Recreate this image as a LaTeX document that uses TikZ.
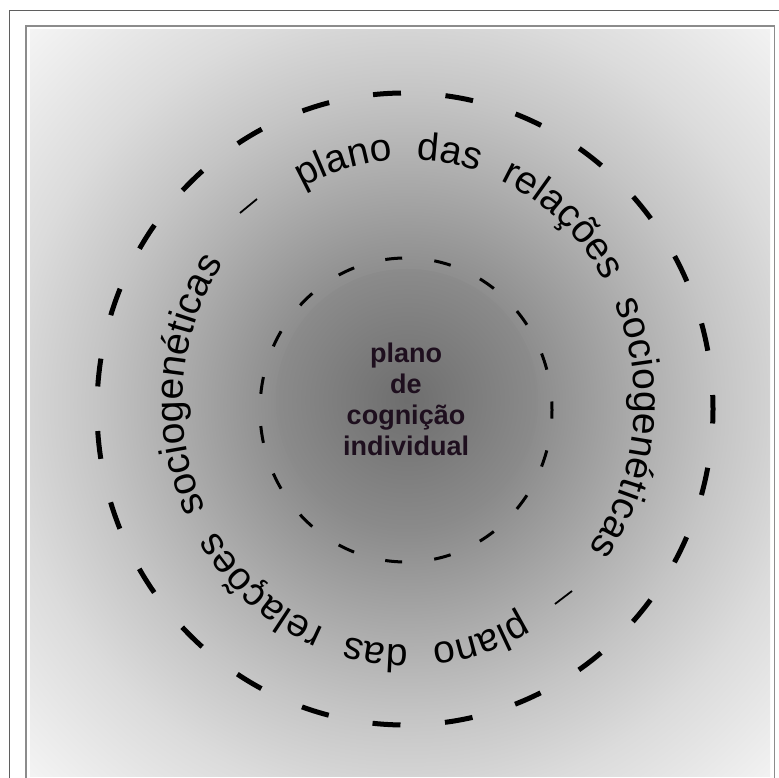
\documentclass[tikz,border=0pt]{standalone}
\usepackage{fontspec}
\setmainfont{Liberation Sans}
\usetikzlibrary{decorations.text}
\definecolor{moldura}{RGB}{95,95,95}
\definecolor{molduraB}{RGB}{140,140,140}
\definecolor{txtnucleo}{RGB}{30,15,30}
\definecolor{fundoA}{gray}{0.42}
\definecolor{fundoB}{gray}{0.55}
\definecolor{fundoC}{gray}{0.70}
\definecolor{fundoD}{gray}{0.77}
\definecolor{fundoE}{gray}{0.86}
\definecolor{fundoF}{gray}{0.955}
\definecolor{discoA}{gray}{0.43}
\definecolor{discoB}{gray}{0.545}
% raio do circulo = 25bp
\pgfdeclareradialshading{fundo}{\pgfpoint{0bp}{0bp}}{%
  color(0bp)=(fundoA); color(6bp)=(fundoB); color(11.6bp)=(fundoC);
  color(14.35bp)=(fundoD); color(18.5bp)=(fundoE); color(24.5bp)=(fundoF);
  color(50bp)=(fundoF)}
\pgfdeclareradialshading{disco}{\pgfpoint{0bp}{0bp}}{%
  color(0bp)=(discoA); color(25bp)=(discoB); color(50bp)=(discoB)}

\begin{document}
\begin{tikzpicture}[x=1pt,y=1pt,
  anel/.style={line width=5pt,dash pattern=on 28pt off 44.6pt,dash phase=14pt},
  anelint/.style={line width=3pt,dash pattern=on 17pt off 32.28pt,dash phase=8.5pt},
  fio/.style={line width=1.8pt},
  rotulo/.style={decorate,decoration={text along path,
    text align={fit to path stretching spaces},
    text={|\fontsize{39}{44}\selectfont|plano das relações sociogenéticas}}}]
  \useasboundingbox (0,0) rectangle (779,778);
  \clip (0,0) rectangle (779,778);
  % molduras
  \draw[moldura,line width=1pt] (9.5,-20) |- (800,767.5);
  \draw[molduraB,line width=1.8pt] (25.8,-20) |- (774.5,752.2) -- (774.5,-20);
  % fundo em degrade radial
  \begin{scope}
    \clip (30,1) rectangle (770,748);
    \shade[shading=fundo] (407,373) circle (540);
  \end{scope}
  \shade[shading=disco] (407,378) circle (131);
  \coordinate (centro) at (405,369);
  \coordinate (meio) at (406,368);
  \coordinate (texto) at (408.5,375.5);
  % aneis tracejados
  \draw[anel] (centro) ellipse (308 and 316);
  \draw[anelint] (meio) ellipse (146 and 152);
  \draw[fio] (240,565) -- (257,579);
  \draw[fio] (555,174) -- (572,187);
  % texto ao longo do anel
  \path[rotulo] (texto) ++(118:226 and 243)
    arc[start angle=118,end angle=-37,x radius=226,y radius=243];
  \path[rotulo] (texto) ++(-60:226 and 243)
    arc[start angle=-60,end angle=-215,x radius=226,y radius=243];
  \node[inner sep=0pt,align=center,text=txtnucleo,
    font=\fontsize{27}{31}\selectfont\bfseries] (individual) at (406,378.6)
    {plano\\de\\cognição\\individual};
\end{tikzpicture}
\end{document}
